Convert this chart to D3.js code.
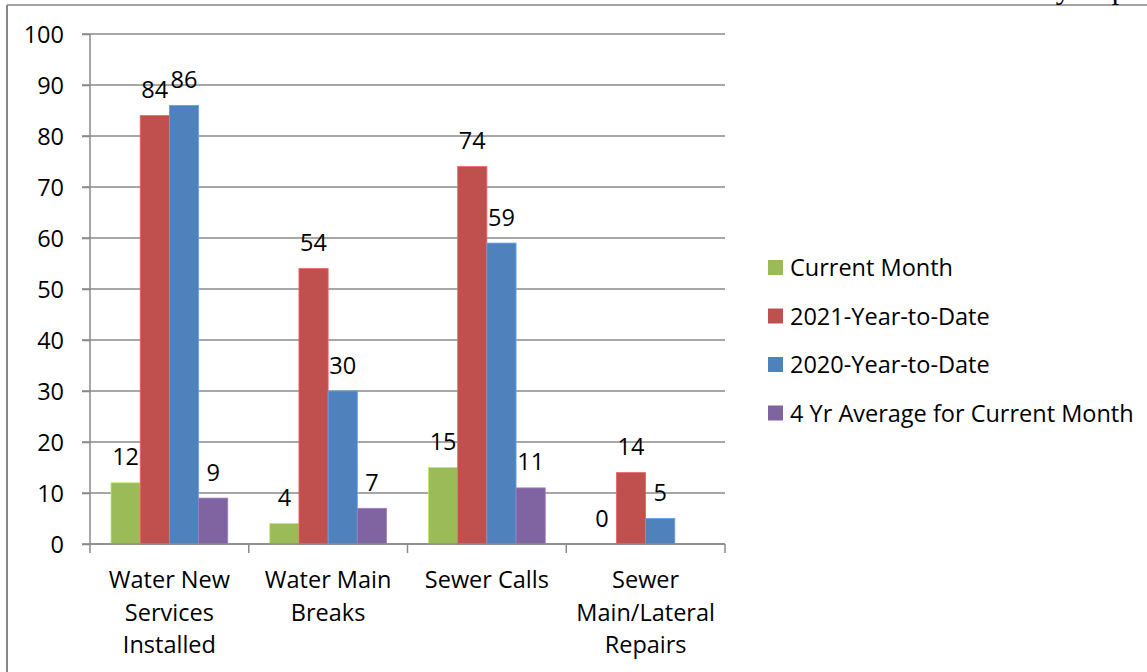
<!DOCTYPE html>
<html>
<head>
<meta charset="utf-8">
<script src="https://cdn.jsdelivr.net/npm/d3@7"></script>
<style>
  html, body { margin: 0; padding: 0; background: #fff; }
  svg { display: block; }
  text { font-family: "Open Sans", sans-serif; fill: #000; }
</style>
</head>
<body>
<svg id="chart" width="1147" height="672"></svg>
<script>
const categories = ["Water New Services Installed", "Water Main Breaks", "Sewer Calls", "Sewer Main/Lateral Repairs"];
const categoryLines = [["Water New", "Services", "Installed"], ["Water Main", "Breaks"], ["Sewer Calls"], ["Sewer", "Main/Lateral", "Repairs"]];
const seriesNames = ["Current Month", "2021-Year-to-Date", "2020-Year-to-Date", "4 Yr Average for Current Month"];
const currentMonth = [12, 4, 15, 0];
const ytd2021 = [84, 54, 74, 14];
const ytd2020 = [86, 30, 59, 5];
const avg4yr = [9, 7, 11, null];
const yTicks = [0, 10, 20, 30, 40, 50, 60, 70, 80, 90, 100];
const colors = ["#9BBB59", "#C0504D", "#4F81BD", "#8064A2"];

const seriesValues = [currentMonth, ytd2021, ytd2020, avg4yr];
const svg = d3.select("#chart");
const fontSize = 23.5;

// frame
svg.append("line").attr("x1", 7).attr("x2", 1147).attr("y1", 5).attr("y2", 5).attr("stroke", "#868686").attr("stroke-width", 1.5);
svg.append("line").attr("x1", 7).attr("x2", 7).attr("y1", 5).attr("y2", 672).attr("stroke", "#868686").attr("stroke-width", 2);
// header text of the page, mostly above the visible area
svg.append("text").attr("x", 1160).attr("y", -1).attr("text-anchor", "end")
  .style("font-family", "'Liberation Serif', 'Times New Roman', serif").style("font-size", "30px").text("Monthly Report");

const x = d3.scaleBand().domain(categories).range([90, 725]).padding(0);
const xInner = d3.scaleBand().domain(seriesNames).range([0, x.bandwidth()]).paddingInner(0).paddingOuter(0.72);
const y = d3.scaleLinear().domain([0, 100]).range([544, 34]);

// gridlines
svg.append("g").selectAll("line").data(yTicks).join("line")
  .attr("x1", 82).attr("x2", 725)
  .attr("y1", d => y(d)).attr("y2", d => y(d))
  .attr("stroke", "#8a8a8a").attr("stroke-width", 1.5);

// y axis
const yAxis = d3.axisLeft(y).tickValues(yTicks).tickSize(8).tickPadding(18);
const gy = svg.append("g").attr("transform", "translate(90,0)").call(yAxis);
gy.select(".domain").attr("stroke", "#8a8a8a").attr("stroke-width", 1.5).attr("d", `M0,${y(100)}V${y(0)}`);
gy.selectAll(".tick line").attr("stroke", "#8a8a8a").attr("stroke-width", 1.5);
gy.selectAll(".tick text").style("font-family", "'Open Sans', sans-serif").style("font-size", fontSize + "px").attr("fill", "#000").attr("dy", "0.36em");

// bars
const groups = svg.append("g").selectAll("g").data(categories).join("g")
  .attr("transform", d => `translate(${x(d)},0)`);
groups.each(function(cat, ci) {
  const g = d3.select(this);
  seriesNames.forEach((s, si) => {
    const v = seriesValues[si][ci];
    if (v === null) return;
    if (v > 0) {
      g.append("rect")
        .attr("x", xInner(s)).attr("width", xInner.bandwidth())
        .attr("y", y(v)).attr("height", y(0) - y(v))
        .attr("fill", colors[si])
        .attr("stroke", d3.color(colors[si]).brighter(0.6)).attr("stroke-width", 0.8);
    }
    g.append("text")
      .attr("x", xInner(s) + xInner.bandwidth() / 2)
      .attr("y", y(v) - 17.5)
      .attr("text-anchor", "middle")
      .style("font-size", fontSize + "px")
      .text(v);
  });
});

// x axis line and ticks
svg.append("line").attr("x1", 90).attr("x2", 725).attr("y1", y(0)).attr("y2", y(0)).attr("stroke", "#8a8a8a").attr("stroke-width", 1.5);
const boundaries = categories.map(c => x(c)).concat([x(categories[categories.length - 1]) + x.bandwidth()]);
svg.append("g").selectAll("line").data(boundaries).join("line")
  .attr("x1", d => d).attr("x2", d => d).attr("y1", y(0)).attr("y2", y(0) + 9)
  .attr("stroke", "#8a8a8a").attr("stroke-width", 1.5);

// category labels
categories.forEach((c, ci) => {
  const t = svg.append("text").attr("text-anchor", "middle").style("font-size", fontSize + "px");
  categoryLines[ci].forEach((ln, li) => {
    t.append("tspan").attr("x", x(c) + x.bandwidth() / 2).attr("y", 588 + li * 32.5).text(ln);
  });
});

// legend
const legend = svg.append("g").selectAll("g").data(seriesNames).join("g")
  .attr("transform", (d, i) => `translate(768,${276 + i * 48.5})`);
legend.append("rect").attr("x", 0).attr("y", -16).attr("width", 15).attr("height", 15).attr("fill", (d, i) => colors[i]);
legend.append("text").attr("x", 22).attr("y", 0).style("font-size", fontSize + "px").text(d => d);
</script>
</body>
</html>
